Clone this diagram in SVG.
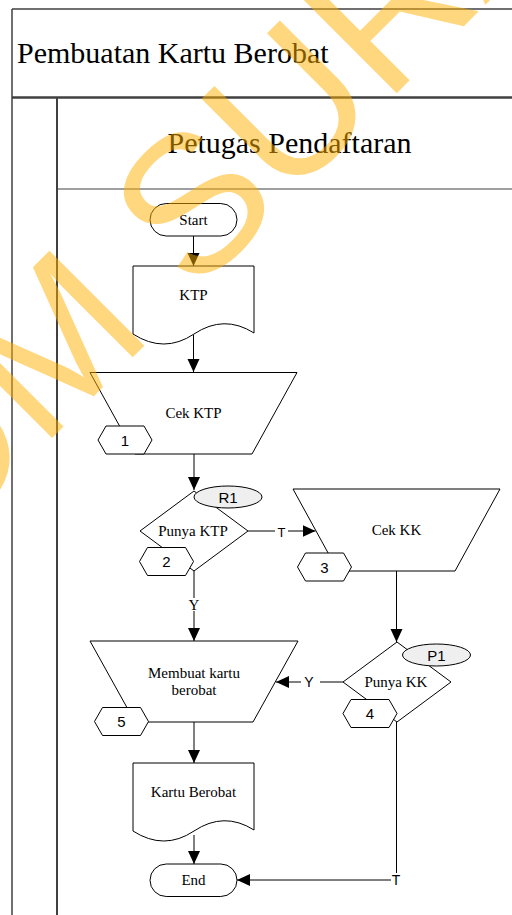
<svg xmlns="http://www.w3.org/2000/svg" width="512" height="915" viewBox="0 0 512 915">
  <style>
    .lane { stroke: #404040; fill: none; }
    .shape { fill: #ffffff; stroke: #000000; stroke-width: 1; }
    .tag { fill: #efefef; stroke: #000000; stroke-width: 1; }
    .serif { font-family: "Liberation Serif", "Times New Roman", serif; fill: #000000; }
    .sans { font-family: "Liberation Sans", Arial, sans-serif; fill: #000000; }
    .lbl { font-size: 15px; text-anchor: middle; }
    .flow { stroke: #000000; stroke-width: 1; fill: none; }
    .mark { font-family: "Liberation Sans", Arial, sans-serif; font-size: 195px; fill: #FFB000; opacity: 0.5; }
  </style>
  <defs>
    <marker id="arrow" markerUnits="userSpaceOnUse" markerWidth="14" markerHeight="13" refX="13" refY="6" orient="auto">
      <path d="M0,0 L13,6 L0,12 Z" fill="#000000"/>
    </marker>
    <polygon id="hex" points="-27,0 -19,-14 19,-14 27,0 19,14 -19,14"/>
    <path id="wave" d="M0,0 H121 V67 Q91,48 61,68 Q31,88 0,68 Z"/>
  </defs>

  <rect width="512" height="915" fill="#ffffff"/>

  <!-- pool and lane frame -->
  <g id="pool">
    <line class="lane" x1="12" y1="9" x2="512" y2="9" stroke-width="1.5"/>
    <line class="lane" x1="12" y1="9" x2="12" y2="915" stroke-width="1.5"/>
    <line class="lane" x1="12" y1="97.5" x2="512" y2="97.5" stroke-width="2.5"/>
    <text class="serif" x="17" y="63" font-size="30">Pembuatan Kartu Berobat</text>
  </g>
  <g id="lane-petugas">
    <line class="lane" x1="57" y1="97" x2="57" y2="915" stroke-width="2"/>
    <line class="lane" x1="57" y1="189" x2="512" y2="189" stroke-width="1.2"/>
    <text class="serif" x="289.5" y="153" font-size="30" text-anchor="middle">Petugas Pendaftaran</text>
  </g>

  <!-- connectors -->
  <g id="connectors">
    <line class="flow" x1="193.5" y1="236" x2="193.5" y2="266" marker-end="url(#arrow)"/>
    <line class="flow" x1="193.5" y1="335" x2="193.5" y2="372" marker-end="url(#arrow)"/>
    <line class="flow" x1="194" y1="454" x2="194" y2="490" marker-end="url(#arrow)"/>
    <line class="flow" x1="248" y1="531" x2="275" y2="531"/>
    <line class="flow" x1="288" y1="531" x2="315.5" y2="531" marker-end="url(#arrow)"/>
    <text class="sans" x="281.5" y="536.5" font-size="13" text-anchor="middle">T</text>
    <line class="flow" x1="194" y1="571" x2="194" y2="598"/>
    <line class="flow" x1="194" y1="611" x2="194" y2="641" marker-end="url(#arrow)"/>
    <text class="serif" x="194" y="610" font-size="15" text-anchor="middle">Y</text>
    <line class="flow" x1="396.5" y1="571" x2="396.5" y2="642" marker-end="url(#arrow)"/>
    <line class="flow" x1="343" y1="682" x2="320" y2="682"/>
    <line class="flow" x1="301" y1="682" x2="276" y2="682" marker-end="url(#arrow)"/>
    <text class="sans" x="309" y="687" font-size="14" text-anchor="middle">Y</text>
    <line class="flow" x1="194" y1="722" x2="194" y2="763" marker-end="url(#arrow)"/>
    <line class="flow" x1="194" y1="835" x2="194" y2="864" marker-end="url(#arrow)"/>
    <line class="flow" x1="396.5" y1="722" x2="396.5" y2="873"/>
    <line class="flow" x1="391" y1="880" x2="237" y2="880" marker-end="url(#arrow)"/>
    <text class="sans" x="396" y="885" font-size="14" text-anchor="middle">T</text>
  </g>

  <!-- flow nodes -->
  <g id="start">
    <rect class="shape" x="150" y="203.5" width="87" height="32.5" rx="16.25"/>
    <text class="serif lbl" x="193.5" y="225">Start</text>
  </g>
  <g id="ktp">
    <use href="#wave" class="shape" transform="translate(133,266)"/>
    <text class="serif lbl" x="193.5" y="300">KTP</text>
  </g>
  <g id="cek-ktp">
    <polygon class="shape" points="90,372.5 297,372.5 252,454 135,454"/>
    <text class="serif lbl" x="193.5" y="418">Cek KTP</text>
    <use href="#hex" class="shape" transform="translate(125,440)"/>
    <text class="sans lbl" x="125" y="445.5">1</text>
  </g>
  <g id="punya-ktp">
    <polygon class="shape" points="194,491 248,531 194,571 140,531"/>
    <text class="serif lbl" x="193" y="535.5">Punya KTP</text>
    <use href="#hex" class="shape" transform="translate(166.5,561.5)"/>
    <text class="sans lbl" x="166.5" y="567">2</text>
    <ellipse class="tag" cx="228" cy="497" rx="34" ry="11"/>
    <text class="sans lbl" x="228" y="502.5">R1</text>
  </g>
  <g id="cek-kk">
    <polygon class="shape" points="293,489 500,489 455,571 338,571"/>
    <text class="serif lbl" x="396.5" y="535">Cek KK</text>
    <use href="#hex" class="shape" transform="translate(324.5,567)"/>
    <text class="sans lbl" x="324.5" y="572.5">3</text>
  </g>
  <g id="punya-kk">
    <polygon class="shape" points="397,642 451,682 397,722 343,682"/>
    <text class="serif lbl" x="396" y="686.5">Punya KK</text>
    <use href="#hex" class="shape" transform="translate(370,713.5)"/>
    <text class="sans lbl" x="370" y="719">4</text>
    <ellipse class="tag" cx="436.5" cy="655" rx="34" ry="11"/>
    <text class="sans lbl" x="436.5" y="660.5">P1</text>
  </g>
  <g id="membuat-kartu">
    <polygon class="shape" points="90,641 298,641 253,722 135,722"/>
    <text class="serif lbl" x="194" y="678">Membuat kartu</text>
    <text class="serif lbl" x="194" y="695">berobat</text>
    <use href="#hex" class="shape" transform="translate(121.5,721.5)"/>
    <text class="sans lbl" x="121.5" y="727">5</text>
  </g>
  <g id="kartu-berobat">
    <use href="#wave" class="shape" transform="translate(133,763)"/>
    <text class="serif lbl" x="193.5" y="797">Kartu Berobat</text>
  </g>
  <g id="end">
    <rect class="shape" x="150" y="864" width="87" height="32.5" rx="16.25"/>
    <text class="serif lbl" x="193.5" y="885">End</text>
  </g>

  <!-- watermark across the sheet -->
  <text class="mark" transform="translate(-373,863) rotate(-45)">STIKOM SURABAYA</text>
</svg>
